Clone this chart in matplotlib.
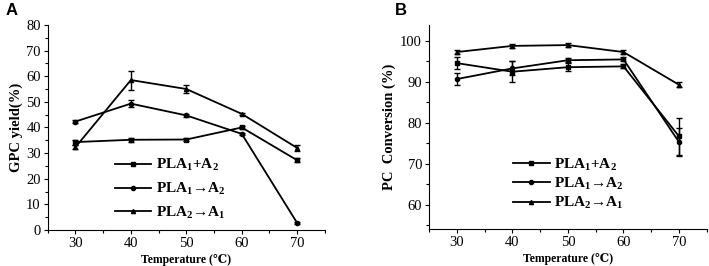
import matplotlib
matplotlib.use("Agg")
import matplotlib.pyplot as plt
from matplotlib.ticker import MultipleLocator

plt.rcParams['font.family'] = ['Liberation Serif', 'DejaVu Serif']
plt.rcParams['mathtext.fontset'] = 'custom'
plt.rcParams['mathtext.rm'] = 'Liberation Serif:bold'
plt.rcParams['mathtext.default'] = 'rm'

temps = [30, 40, 50, 60, 70]
labels = [r'PLA$_1$+A$_2$', r'PLA$_1$→A$_2$', r'PLA$_2$→A$_1$']
markers = ['s', 'o', '^']

# panel A: GPC yield (%)
gpc_sq = [34.3, 35.2, 35.3, 40.0, 27.2]
gpc_sq_err = [1.0, 0.7, 0.5, 0.5, 0.8]
gpc_ci = [42.3, 49.3, 44.7, 37.5, 2.7]
gpc_ci_err = [0.5, 1.5, 0.5, 0.5, 0.3]
gpc_tr = [32.3, 58.5, 55.0, 45.3, 32.0]
gpc_tr_err = [0.8, 3.7, 1.5, 0.5, 1.0]

# panel B: PC conversion (%)
pc_sq = [94.6, 92.5, 93.6, 93.8, 76.7]
pc_sq_err = [1.5, 2.5, 1.0, 0.5, 4.5]
pc_ci = [90.7, 93.3, 95.3, 95.5, 75.3]
pc_ci_err = [1.5, 1.7, 0.5, 0.5, 3.4]
pc_tr = [97.3, 98.8, 99.0, 97.3, 89.3]
pc_tr_err = [0.4, 0.4, 0.4, 0.4, 0.6]

fig = plt.figure(figsize=(7.09, 2.66), dpi=100)
axA = fig.add_axes([0.0673, 0.1353, 0.391, 0.771])
axB = fig.add_axes([0.605, 0.139, 0.392, 0.767])


def draw(ax, series, errs):
    for vals, err, mk, lab in zip(series, errs, markers, labels):
        ax.errorbar(temps, vals, yerr=err, fmt='none', ecolor='black',
                    elinewidth=1.0, capsize=2.5, capthick=1.0)
        ax.plot(temps, vals, color='black', lw=1.3, marker=mk, ms=3,
                label=lab)
    ax.spines['top'].set_visible(False)
    ax.spines['right'].set_visible(False)
    ax.set_xlim(25, 75)
    ax.xaxis.set_major_locator(MultipleLocator(10))
    ax.xaxis.set_minor_locator(MultipleLocator(5))
    ax.yaxis.set_major_locator(MultipleLocator(10))
    ax.yaxis.set_minor_locator(MultipleLocator(5))
    ax.tick_params(which='major', direction='out', length=3, width=0.8,
                   labelsize=10.5, pad=2)
    ax.tick_params(which='minor', direction='out', length=2, width=0.8)
    ax.set_xlabel('Temperature (℃)', fontsize=8.5, fontweight='bold',
                  labelpad=3)


legend_font = {'weight': 'bold', 'size': 11}

draw(axA, [gpc_sq, gpc_ci, gpc_tr], [gpc_sq_err, gpc_ci_err, gpc_tr_err])
axA.set_ylim(0, 80)
axA.set_ylabel('GPC yield(%)', fontsize=10.5, fontweight='bold', labelpad=2)
axA.legend(loc='upper left', bbox_to_anchor=(0.22, 0.385), frameon=False,
           prop=legend_font, handlelength=2.4, handletextpad=0.3,
           labelspacing=0.5, borderaxespad=0)

draw(axB, [pc_sq, pc_ci, pc_tr], [pc_sq_err, pc_ci_err, pc_tr_err])
axB.set_ylim(54.1, 103.9)
axB.set_ylabel('PC  Conversion (%)', fontsize=10.5, fontweight='bold',
               labelpad=3)
axB.legend(loc='upper left', bbox_to_anchor=(0.28, 0.385), frameon=False,
           prop=legend_font, handlelength=2.4, handletextpad=0.3,
           labelspacing=0.2, borderaxespad=0)

fig.text(0.008, 0.99, 'A', family='Liberation Sans', fontweight='bold',
         fontsize=12, va='top', ha='left')
fig.text(0.557, 0.99, 'B', family='Liberation Sans', fontweight='bold',
         fontsize=12, va='top', ha='left')

fig.savefig('out.png', dpi=100)
